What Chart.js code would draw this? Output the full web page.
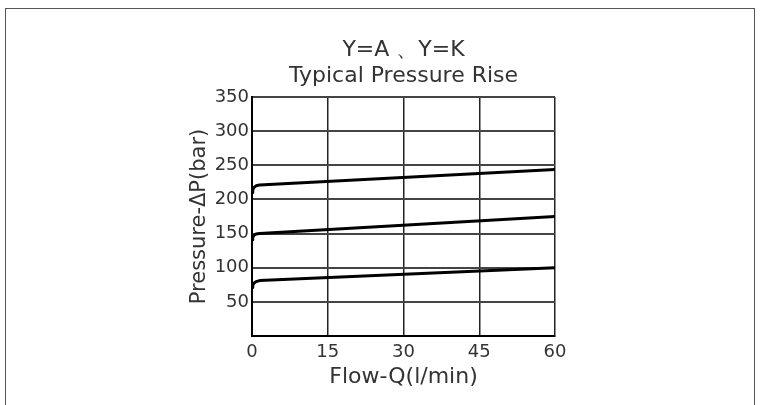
<!DOCTYPE html>
<html>
<head>
<meta charset="utf-8">
<script src="https://cdn.jsdelivr.net/npm/chart.js@4/dist/chart.umd.min.js"></script>
<style>
  body { margin: 0; background: #fff; }
  #frame { position: absolute; left: 5px; top: 8px; width: 748px; height: 420px; border: 1px solid #555; }
  #wrap { position: absolute; left: 0; top: 0; width: 767px; height: 405px; }
</style>
</head>
<body>
<div id="frame"></div>
<div id="wrap"><canvas id="pressureChart" width="767" height="405"></canvas></div>
<script>
'use strict';
// values
var titleLines = ['Y=A \u3001Y=K', 'Typical Pressure Rise'];
var flowQ = [0, 0.15, 0.4, 0.8, 1.5, 60];
var curveHigh = [210, 214, 217.5, 220, 221.1, 244];
var curveMid = [141, 144.5, 147.5, 149.4, 150.1, 175];
var curveLow = [71, 74.5, 77.5, 79.6, 81.1, 100];
var xTicks = [0, 15, 30, 45, 60];
var yTicks = [50, 100, 150, 200, 250, 300, 350];

function toPoints(ys){
  var pts = [];
  for (var i = 0; i < flowQ.length; i++){
    pts.push({x: flowQ[i], y: ys[i]});
  }
  return pts;
}

function lineSet(ys){
  return {
    data: toPoints(ys),
    borderColor: '#000',
    borderWidth: 3,
    borderJoinStyle: 'round',
    pointRadius: 0,
    fill: false,
    tension: 0
  };
}

var textColor = '#333';
var fontName = '"DejaVu Sans", sans-serif';

var ctx = document.getElementById('pressureChart').getContext('2d');
var chart = new Chart(ctx, {
  type: 'line',
  data: {
    datasets: [lineSet(curveHigh), lineSet(curveMid), lineSet(curveLow)]
  },
  options: {
    responsive: false,
    animation: false,
    layout: { padding: { left: 0, right: 212, top: 38, bottom: 0 } },
    plugins: {
      legend: { display: false },
      tooltip: { enabled: false },
      title: {
        display: true,
        text: titleLines,
        fullSize: false,
        color: textColor,
        font: { family: fontName, size: 22, weight: 'normal', lineHeight: '25.5px' },
        padding: { top: 0, bottom: 8 }
      }
    },
    scales: {
      x: {
        type: 'linear',
        min: 0,
        max: 60,
        afterBuildTicks: function(scale){
          scale.ticks = xTicks.map(function(v){ return {value: v}; });
        },
        afterFit: function(scale){ scale.height = 69; },
        border: { color: '#000', width: 2 },
        grid: { color: '#222', lineWidth: 1.5, drawTicks: false },
        ticks: { color: textColor, padding: 6, font: { family: fontName, size: 18 } },
        title: {
          display: true,
          text: 'Flow-Q(l/min)',
          color: textColor,
          font: { family: fontName, size: 22, lineHeight: 1.2 },
          padding: { top: 0, bottom: 15 }
        }
      },
      y: {
        min: 0,
        max: 350,
        afterBuildTicks: function(scale){
          scale.ticks = [{value: 0}].concat(yTicks.map(function(v){ return {value: v}; }));
        },
        afterFit: function(scale){ scale.width = 252; },
        border: { color: '#000', width: 2 },
        grid: { color: '#444', lineWidth: 2, drawTicks: false },
        ticks: {
          color: textColor,
          padding: 3,
          font: { family: fontName, size: 18 },
          callback: function(v){ return v === 0 ? '' : v; }
        },
        title: {
          display: true,
          text: 'Pressure-\u0394P(bar)',
          color: textColor,
          font: { family: fontName, size: 21, lineHeight: 1.2 },
          padding: { top: 187, bottom: 0 }
        }
      }
    }
  }
});
</script>
</body>
</html>
